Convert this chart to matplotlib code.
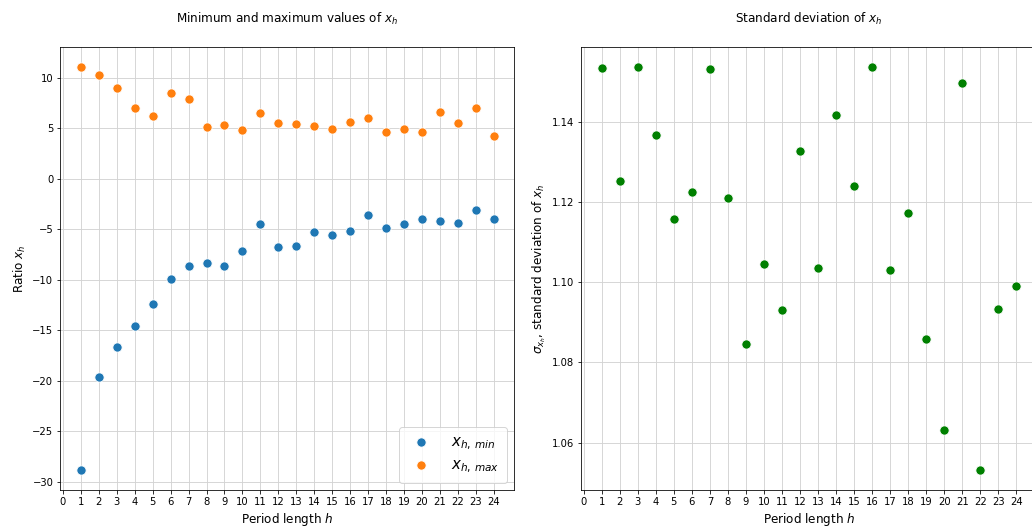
import numpy as np
import matplotlib
matplotlib.use("Agg")
import matplotlib.pyplot as plt

# period lengths
h = np.arange(1, 25)

# extreme ratio values per period length
x_min = [-28.8, -19.6, -16.6, -14.6, -12.4, -9.9, -8.6, -8.3, -8.6, -7.1,
         -4.5, -6.7, -6.6, -5.3, -5.5, -5.2, -3.6, -4.9, -4.5, -4.0,
         -4.2, -4.4, -3.1, -4.0]
x_max = [11.1, 10.3, 9.0, 7.0, 6.2, 8.5, 7.95, 5.1, 5.3, 4.85,
         6.5, 5.5, 5.4, 5.2, 4.95, 5.6, 6.0, 4.6, 4.95, 4.6,
         6.6, 5.5, 7.0, 4.3]

# standard deviation of the ratio per period length
x_std = [1.1535, 1.1254, 1.1537, 1.1369, 1.1158, 1.1225, 1.1532, 1.1211,
         1.0846, 1.1047, 1.0930, 1.1328, 1.1037, 1.1417, 1.1241, 1.1538,
         1.1030, 1.1174, 1.0858, 1.0631, 1.1497, 1.0532, 1.0933, 1.0992]

fig = plt.figure(figsize=(1032 / 72, 531 / 72), dpi=72)
ax1 = fig.add_axes([0.0584, 0.0772, 0.4399, 0.8349])
ax2 = fig.add_axes([0.5630, 0.0772, 0.4420, 0.8349])

marker_kw = dict(s=85, edgecolor="white", linewidth=0.8, zorder=3)

ax1.scatter(h, x_min, color="#1f77b4", label="$x_{h,\\,min}$", **marker_kw)
ax1.scatter(h, x_max, color="#ff7f0e", label="$x_{h,\\,max}$", **marker_kw)
ax1.set_title("Minimum and maximum values of $x_h$", fontsize=12, pad=24)
ax1.set_xlabel("Period length $h$", fontsize=12)
ax1.set_ylabel("Ratio $x_h$", fontsize=12)
ax1.legend(loc="lower right", fontsize=15, borderpad=0.5, labelspacing=0.35,
           handletextpad=1.0)

ax2.scatter(h, x_std, color="green", **marker_kw)
ax2.set_title("Standard deviation of $x_h$", fontsize=12, pad=24)
ax2.set_xlabel("Period length $h$", fontsize=12)
ax2.set_ylabel("$\\sigma_{x_h}$, standard deviation of $x_h$", fontsize=12)

for ax in (ax1, ax2):
    ax.set_xticks(range(0, 25))
    ax.tick_params(labelsize=10)
    ax.grid(True, color="#d3d3d3", linewidth=0.9)
    ax.set_axisbelow(True)

fig.savefig("out.png", dpi=72)
